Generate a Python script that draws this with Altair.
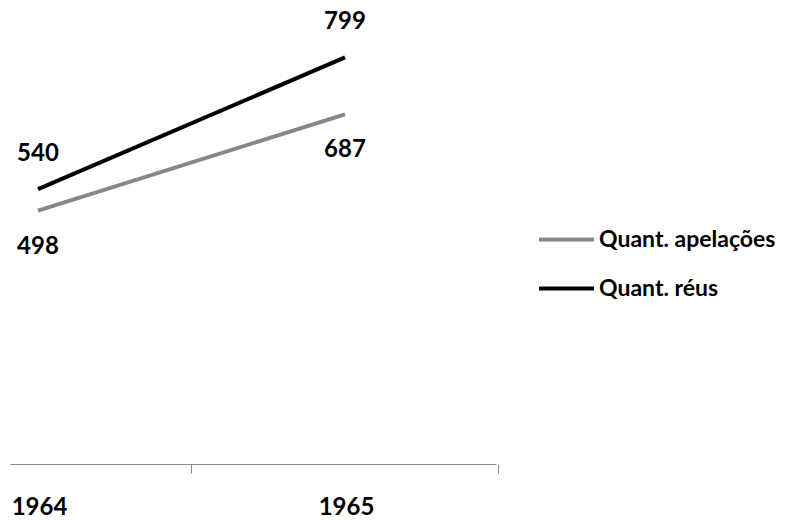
import altair as alt
import pandas as pd

# Series values per year
anos = [1964, 1965]
apelacoes = [498, 687]
reus = [540, 799]
serie_apel = "Quant. apelações"
serie_reus = "Quant. réus"

rows = []
for a, v in zip(anos, apelacoes):
    rows.append({"ano": a, "valor": v, "serie": serie_apel})
for a, v in zip(anos, reus):
    rows.append({"ano": a, "valor": v, "serie": serie_reus})
df = pd.DataFrame(rows)

FONT = "Lato"
FS = 24

x_enc = alt.X(
    "ano:Q",
    scale=alt.Scale(domain=[1963.9088, 1965.4919], nice=False, zero=False),
    axis=alt.Axis(
        values=anos, format="d", title=None, grid=False,
        ticks=True, tickSize=9, tickWidth=1, tickColor="#8a8a8a",
        tickOffset=153, labelOffset=-152,
        domainColor="#8a8a8a", domainWidth=1,
        labelFont=FONT, labelFontWeight="bold", labelFontSize=FS,
        labelColor="black", labelPadding=22, labelFlush=False,
        labelOverlap=False,
    ),
)
y_enc = alt.Y("valor:Q", scale=alt.Scale(domain=[0, 900], nice=False), axis=None)

color_enc = alt.Color(
    "serie:N",
    scale=alt.Scale(domain=[serie_apel, serie_reus], range=["#878787", "#000000"]),
    legend=alt.Legend(
        title=None, orient="none", legendX=527, legendY=204,
        symbolType="stroke", symbolStrokeWidth=4, symbolSize=3025,
        labelFont=FONT, labelFontWeight="bold", labelFontSize=23,
        labelColor="black", labelOffset=3, rowPadding=7, labelLimit=0,
    ),
)

base = alt.Chart(df).encode(x=x_enc, y=y_enc)

lines = base.mark_line(strokeWidth=4).encode(color=color_enc)

labels_reus = base.transform_filter(alt.datum.serie == serie_reus).mark_text(
    dy=-35, font=FONT, fontWeight="bold", fontSize=FS, color="black", baseline="middle"
).encode(text="valor:Q")

labels_apel = base.transform_filter(alt.datum.serie == serie_apel).mark_text(
    dy=36, font=FONT, fontWeight="bold", fontSize=FS, color="black", baseline="middle"
).encode(text="valor:Q")

chart = alt.layer(lines, labels_reus, labels_apel).properties(
    width=486, height=458,
    autosize=alt.AutoSizeParams(type="none"),
    padding={"left": 10, "top": 6, "right": 293, "bottom": 56},
    background="white",
).configure_view(stroke=None)

chart.save("out.html", embed_options={"renderer": "svg", "actions": False})
